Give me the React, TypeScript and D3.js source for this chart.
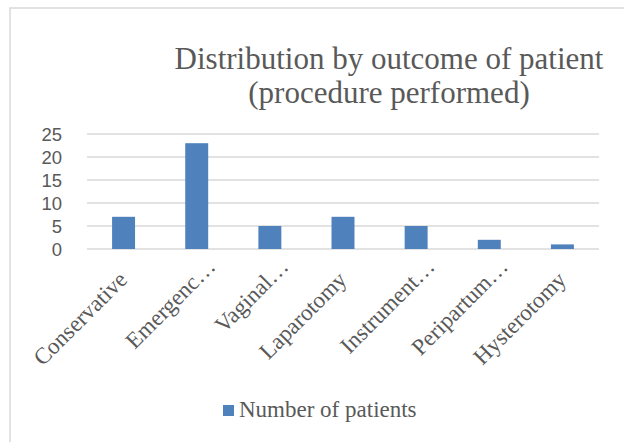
import React from "react"
import * as d3 from "d3"

const categories = [
  "Conservative",
  "Emergenc…",
  "Vaginal…",
  "Laparotomy",
  "Instrument…",
  "Peripartum…",
  "Hysterotomy",
]
const patients = [7, 23, 5, 7, 5, 2, 1]
const yTicks = [0, 5, 10, 15, 20, 25]
const titleLines = ["Distribution by outcome of patient", "(procedure performed)"]
const seriesName = "Number of patients"

const App = () => {
  const width = 624
  const height = 442
  const left = 87
  const right = 599
  const top = 134
  const bottom = 249
  const grey = "#595959"
  const barColor = "#4f81bd"
  const serif = "'Liberation Serif', 'Times New Roman', serif"
  const sans = "'Liberation Sans', Arial, sans-serif"

  const xScale = d3
    .scaleBand()
    .domain(categories)
    .range([left, right])
    .paddingInner(0.686)
    .paddingOuter(0.343)
  const yScale = d3.scaleLinear().domain([0, 25]).range([bottom, top])

  return (
    <svg
      width={width}
      height={height}
      style={{ position: "absolute", left: 0, top: 0, background: "#fff" }}
    >
      <rect x={10} y={8} width={700} height={600} fill="#fff" stroke="#d9d9d9" strokeWidth={1.5} />
      {titleLines.map((t, i) => (
        <text
          key={t}
          x={389}
          y={69 + i * 34}
          textAnchor="middle"
          style={{ fontFamily: serif, fontSize: 31 }}
          fill={grey}
        >
          {t}
        </text>
      ))}
      {yTicks.map((t) => (
        <g key={t}>
          <line
            x1={left}
            x2={right}
            y1={yScale(t)}
            y2={yScale(t)}
            stroke="#d9d9d9"
            strokeWidth={1.5}
          />
          <text
            x={62}
            y={yScale(t)}
            dy="0.36em"
            textAnchor="end"
            style={{ fontFamily: sans, fontSize: 18.5 }}
            fill={grey}
          >
            {t}
          </text>
        </g>
      ))}
      {categories.map((c, i) => (
        <rect
          key={c}
          x={xScale(c)}
          y={yScale(patients[i])}
          width={xScale.bandwidth()}
          height={bottom - yScale(patients[i])}
          fill={barColor}
        />
      ))}
      {categories.map((c) => {
        const cx = (xScale(c) ?? 0) + xScale.bandwidth() / 2
        const cut = c.endsWith("…")
        const x = cx + (cut ? 20 : 5)
        const y = cut ? 268 : 281
        return (
          <text
            key={c}
            transform={`translate(${x},${y}) rotate(-45)`}
            textAnchor="end"
            style={{ fontFamily: serif, fontSize: 23 }}
            fill={grey}
          >
            {c}
          </text>
        )
      })}
      <rect x={223} y={405} width={11} height={11} fill={barColor} />
      <text x={239} y={417} style={{ fontFamily: serif, fontSize: 23 }} fill={grey}>
        {seriesName}
      </text>
    </svg>
  )
}

export default App
